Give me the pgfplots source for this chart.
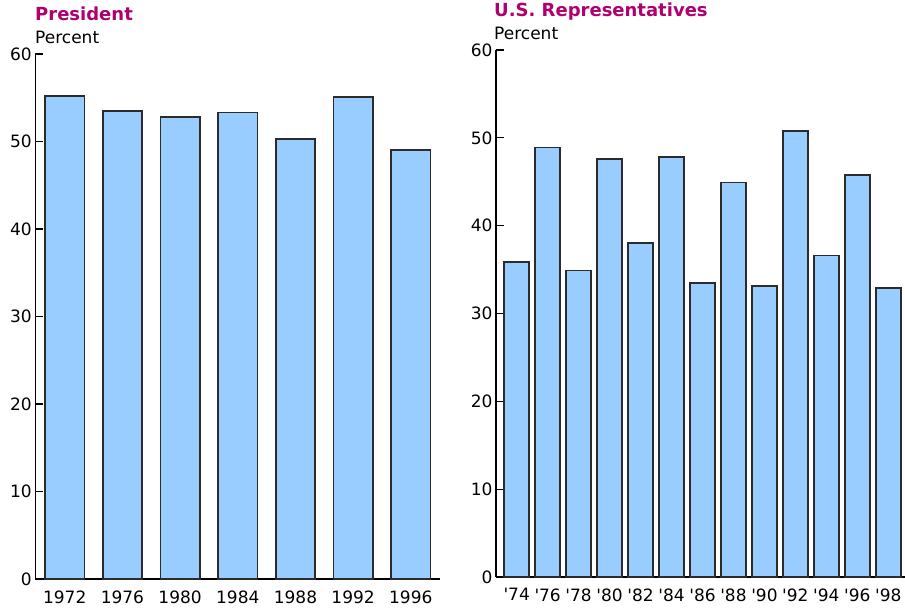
\documentclass[border=0pt]{standalone}
\usepackage{fontspec}
\setmainfont{DejaVu Sans}
\usepackage{pgfplots}
\pgfplotsset{compat=1.18}
\definecolor{barblue}{HTML}{99CCFF}
\definecolor{titlemag}{RGB}{176,0,112}
\definecolor{edge}{HTML}{2B2B2B}
\newcommand{\fs}{\fontsize{17bp}{20bp}\selectfont}
\newcommand{\ft}{\fontsize{18bp}{21bp}\selectfont}
\pgfplotsset{
  common/.style={
    scale only axis,
    anchor=south west,
    axis x line=bottom, axis y line=left,
    axis line style={-, black, line width=1.4bp},
    ymin=0, ymax=60, ytick={0,10,...,60},
    tick align=inside, major tick length=8bp,
    ytick style={black, line width=1.3bp},
    xtick style={draw=none},
    xtick=data,
    ticklabel style={font=\fs},
    /pgf/number format/assume math mode=true,
    ybar, bar shift=0pt,
    clip=false,
  },
  barsty/.style={fill=barblue, draw=edge, line width=1.7bp}
}
\begin{document}
\begin{tikzpicture}
\useasboundingbox (0,0) rectangle (905bp,608bp);
\begin{axis}[common,
  at={(35.3bp,29bp)}, width=404.7bp, height=525bp,
  xmin=-0.51, xmax=6.506, bar width=39.3bp,
  xticklabels={1972,1976,1980,1984,1988,1992,1996}]
\addplot[barsty] coordinates {(0,55.2) (1,53.5) (2,52.8) (3,53.3) (4,50.3) (5,55.1) (6,49.0)};
\end{axis}
\begin{axis}[common,
  at={(496bp,31bp)}, width=409bp, height=527bp,
  xmin=-0.668, xmax=12.54, bar width=25bp,
  xticklabels={\textquotesingle 74,\textquotesingle 76,\textquotesingle 78,\textquotesingle 80,\textquotesingle 82,\textquotesingle 84,\textquotesingle 86,\textquotesingle 88,\textquotesingle 90,\textquotesingle 92,\textquotesingle 94,\textquotesingle 96,\textquotesingle 98}]
\addplot[barsty] coordinates {(0,35.9) (1,48.9) (2,34.9) (3,47.6) (4,38.0) (5,47.8) (6,33.5) (7,44.9) (8,33.1) (9,50.8) (10,36.6) (11,45.8) (12,32.9)};
\end{axis}
\node[anchor=base west, inner sep=0pt, text=titlemag, font=\ft\bfseries] at (35bp,587.5bp) {President};
\node[anchor=base west, inner sep=0pt, font=\fs] at (35bp,564.5bp) {Percent};
\node[anchor=base west, inner sep=0pt, text=titlemag, font=\ft\bfseries] at (494bp,591bp) {U.S. Representatives};
\node[anchor=base west, inner sep=0pt, font=\fs] at (494bp,568bp) {Percent};
\end{tikzpicture}
\end{document}
